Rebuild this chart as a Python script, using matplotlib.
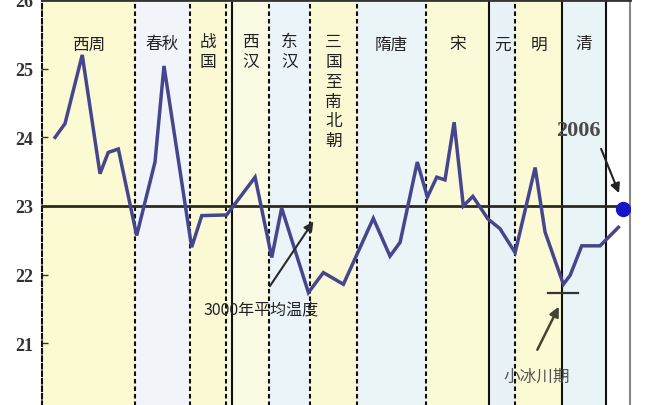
import matplotlib
matplotlib.use('Agg')
import matplotlib.pyplot as plt

# temperature curve (year, deg C)
years = [-1030, -977, -885, -790, -746, -692, -594, -496, -448, -300, -246, -113,
         39, 128, 181, 324, 404, 511, 671, 760, 814, 906, 960, 1010, 1054, 1103,
         1152, 1203, 1284, 1348, 1429, 1536, 1589, 1687, 1723, 1785, 1883, 1981]
temps = [24.0, 24.2, 25.2, 23.47, 23.78, 23.83, 22.57, 23.64, 25.04, 22.4, 22.86, 22.87,
         23.42, 22.25, 22.97, 21.74, 22.03, 21.86, 22.82, 22.27, 22.47, 23.64, 23.13, 23.42,
         23.38, 24.22, 23.0, 23.14, 22.81, 22.67, 22.32, 23.56, 22.62, 21.86, 21.99, 22.42,
         22.42, 22.69]

mean_temp = 23.0
year_2006, temp_2006 = 2006, 22.95
ice_age_years = [1605, 1765]
ice_age_temp = 21.74

# dynasty periods
period_edges = [-1100, -603, -309, -116, -84, 114, 333, 584, 953, 1290, 1429, 1680, 1915, 2043]
period_names = ['西周', '春秋', '战国', '', '西汉', '东汉', '三国至南北朝', '隋唐', '宋', '元', '明', '清', '']
period_vertical = [False, False, True, False, True, True, True, False, False, False, False, False, False]
period_colors = ['#fcfad2', '#f1f5fa', '#fbf9d4', '#fbfae0', '#fbfbe4', '#ebf4f8', '#fbf9d4',
                 '#ebf4f7', '#fbfad6', '#e9f3f7', '#fbfad4', '#e9f4f6', '#ffffff']
# True = solid divider, False = dashed divider (edge on the right of each period)
divider_solid = [False, False, False, True, False, False, False, False, True, False, True, True]

yticks = [20, 21, 22, 23, 24, 25, 26]

cjk = ['Noto Sans CJK SC', 'DejaVu Sans']
dash = (0, (2.2, 1.4))

fig = plt.figure(figsize=(6.46, 4.06), dpi=100)
ax = fig.add_axes([42 / 646, -7 / 406, 588 / 646, 412 / 406])
ax.set_xlim(period_edges[0], period_edges[-1])
ax.set_ylim(20, 26)

# background bands + labels
for i, name in enumerate(period_names):
    x0, x1 = period_edges[i], period_edges[i + 1]
    ax.axvspan(x0, x1, color=period_colors[i], zorder=0, lw=0)
    if not name:
        continue
    xc = (x0 + x1) / 2
    if period_vertical[i]:
        ax.text(xc, 25.52, '\n'.join(name), ha='center', va='top', fontsize=12,
                family=cjk, color='#222222', linespacing=1.22)
    else:
        ax.text(xc, 25.36, name, ha='center', va='center', fontsize=12,
                family=cjk, color='#222222')

for i, solid in enumerate(divider_solid):
    ax.axvline(period_edges[i + 1], color='#111111', lw=1.5,
               ls='-' if solid else dash, zorder=2)

# mean line and curve
ax.axhline(mean_temp, color='#2b2b20', lw=2, zorder=3)
ax.plot(years, temps, color='#46468e', lw=2.5, zorder=4, solid_joinstyle='miter')
ax.plot(year_2006, temp_2006, 'o', color='#1616c8', ms=10, zorder=5)
ax.plot(ice_age_years, [ice_age_temp, ice_age_temp], color='#333333', lw=1.6, zorder=4)

# annotations
ax.text(71, 21.49, '3000年平均温度', ha='center', va='center', fontsize=11.5,
        family=cjk, color='#222222', zorder=6)
ax.annotate('', xy=(359, 22.81), xytext=(110, 21.80), zorder=6,
            arrowprops=dict(arrowstyle='-|>', color='#2a2a2a', lw=1.5, mutation_scale=14))

ax.text(1765, 24.11, '2006', ha='center', va='center', fontsize=16, fontweight='bold',
        family='Liberation Serif', color='#4a4a4a', zorder=6)
ax.annotate('', xy=(1990, 23.15), xytext=(1883, 23.87), zorder=6,
            arrowprops=dict(arrowstyle='-|>', color='#222222', lw=1.5, mutation_scale=14))

ax.text(1544, 20.52, '小冰川期', ha='center', va='center', fontsize=12,
        family=cjk, color='#555555', zorder=6)
ax.annotate('', xy=(1669, 21.57), xytext=(1541, 20.87), zorder=6,
            arrowprops=dict(arrowstyle='-|>', color='#444433', lw=1.8, mutation_scale=14))

# axes styling
ax.set_xticks([])
ax.set_yticks(yticks)
ax.set_yticklabels([str(t) for t in yticks], fontsize=13, fontweight='bold',
                   family='Liberation Serif', color='#333333')
ax.tick_params(axis='y', direction='in', length=4, width=1, pad=6, colors='#333333')
ax.spines['left'].set_linestyle(dash)
ax.spines['left'].set_linewidth(1.5)
ax.spines['left'].set_color('#111111')
ax.spines['top'].set_linewidth(2)
ax.spines['top'].set_color('#333333')
ax.spines['right'].set_color('#888888')
ax.spines['right'].set_linewidth(1.5)
ax.spines['bottom'].set_visible(False)

fig.savefig('out.png', dpi=100)
